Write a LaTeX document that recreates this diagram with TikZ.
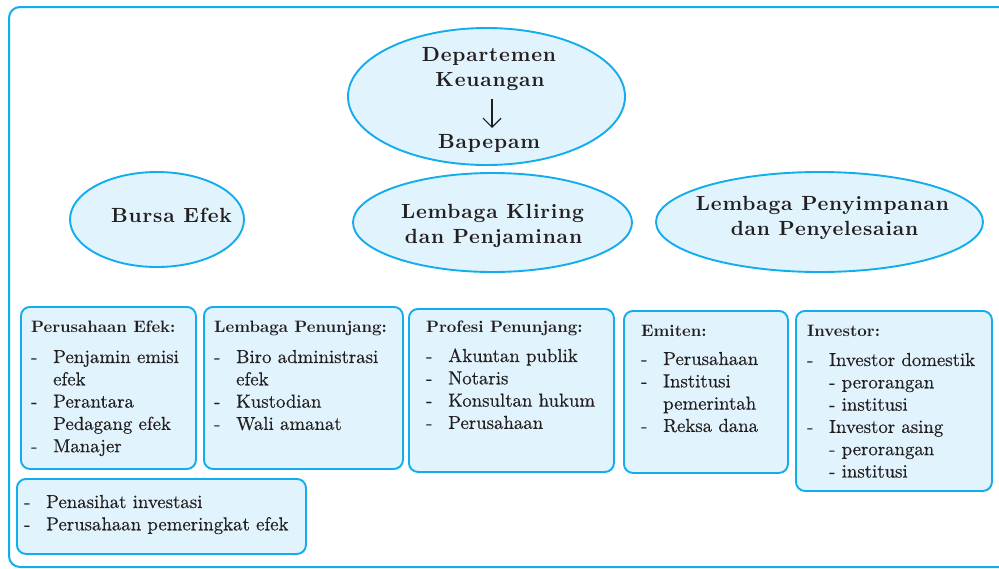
\documentclass[tikz,border=0pt]{standalone}
\usepackage{fontspec}
\setmainfont{lmroman10-regular}[Extension=.otf, BoldFont=lmroman10-bold, ItalicFont=lmroman10-italic, BoldItalicFont=lmroman10-bolditalic]
\usetikzlibrary{shapes.geometric,arrows.meta}
\definecolor{cyanline}{HTML}{12ADEC}
\definecolor{boxfill}{HTML}{E1F3FC}
\definecolor{ink}{HTML}{231F20}
\newcommand{\mylst}[1]{\begin{tabular}[t]{@{}p{22pt}@{}l@{}}#1\end{tabular}}
\tikzset{
  ell/.style={ellipse, draw=cyanline, fill=boxfill, line width=1.9pt, inner sep=0pt},
  etext/.style={font=\fontsize{20.5}{25}\selectfont\bfseries\addfontfeature{LetterSpace=4}, text=ink, inner sep=0pt, anchor=base},
  boxx/.style={rectangle, draw=cyanline, fill=boxfill, line width=1.9pt, rounded corners=9pt, inner sep=0pt, anchor=north west},
  ttl/.style={font=\fontsize{16.5}{20}\selectfont\bfseries, text=ink, inner sep=0pt, anchor=base west},
  lstnode/.style={font=\fontsize{18.8}{22.3}\selectfont\addfontfeature{FakeBold=0.4}, text=ink, inner sep=0pt, anchor=base west},
  arrowline/.style={draw=ink, line width=1.2pt, -{Straight Barb[length=9pt,width=18pt]}}
}
\begin{document}
\begin{tikzpicture}[x=1pt,y=-1pt]
\useasboundingbox (0,0) rectangle (999,568);
\begin{scope}
\clip (0,0) rectangle (999,568);
\draw[cyanline, line width=2pt, rounded corners=11pt] (9,7) rectangle (1020,567);
\end{scope}

% ellipses
\node[ell, minimum width=277pt, minimum height=137pt] (dep) at (486.5,96.5) {};
\node[ell, minimum width=174pt, minimum height=95pt] (bursa) at (157,219.5) {};
\node[ell, minimum width=279pt, minimum height=99pt] (kliring) at (492.5,222.5) {};
\node[ell, minimum width=327pt, minimum height=100pt] (simpan) at (819.5,222) {};

\node[etext] (depA) at (489,61) {Departemen};
\node[etext] (depB) at (490,86) {Keuangan};
\node[etext] (bap) at (489,148) {Bapepam};
\coordinate (arA) at (492,99);
\coordinate (arB) at (492,128);
\draw[arrowline] (arA) -- (arB);

\node[etext] (bursaT) at (171.5,222) {Bursa Efek};
\node[etext] (klA) at (492.5,218) {Lembaga Kliring};
\node[etext] (klB) at (493.5,243) {dan Penjaminan};
\node[etext] (spA) at (822.5,210) {Lembaga Penyimpanan};
\node[etext] (spB) at (824.5,235) {dan Penyelesaian};

% boxes
\node[boxx, minimum width=175pt, minimum height=162pt] (b1) at (20,306) {};
\node[boxx, minimum width=199pt, minimum height=162pt] (b2) at (203,306) {};
\node[boxx, minimum width=205pt, minimum height=163pt] (b3) at (408,308) {};
\node[boxx, minimum width=164pt, minimum height=162pt] (b4) at (623,310) {};
\node[boxx, minimum width=196pt, minimum height=180pt] (b5) at (795,310) {};
\node[boxx, minimum width=289pt, minimum height=75pt] (b6) at (16,478) {};

\node[ttl] (t1) at (31,332) {Perusahaan Efek:};
\node[ttl] (t2) at (214,332) {Lembaga Penunjang:};
\node[ttl] (t3) at (426,332) {Profesi Penunjang:};
\node[ttl] (t4) at (641,336) {Emiten:};
\node[ttl] (t5) at (807,336) {Investor:};

\node[lstnode] (l1) at (31,363) {\mylst{- & Penjamin emisi\\ & efek\\ - & Perantara\\ & Pedagang efek\\ - & Manajer}};
\node[lstnode] (l2) at (214,363) {\mylst{- & Biro administrasi\\ & efek\\ - & Kustodian\\ - & Wali amanat}};
\node[lstnode] (l3) at (426,362) {\mylst{- & Akuntan publik\\ - & Notaris\\ - & Konsultan hukum\\ - & Perusahaan}};
\node[lstnode] (l4) at (641,365) {\mylst{- & Perusahaan\\ - & Institusi\\ & pemerintah\\ - & Reksa dana}};
\node[lstnode] (l5) at (807,366) {\mylst{- & Investor domestik\\ & - perorangan\\ & - institusi\\ - & Investor asing\\ & - perorangan\\ & - institusi}};
\node[lstnode] (l6) at (24,508) {\mylst{- & Penasihat investasi\\ - & Perusahaan pemeringkat efek}};
\end{tikzpicture}
\end{document}
